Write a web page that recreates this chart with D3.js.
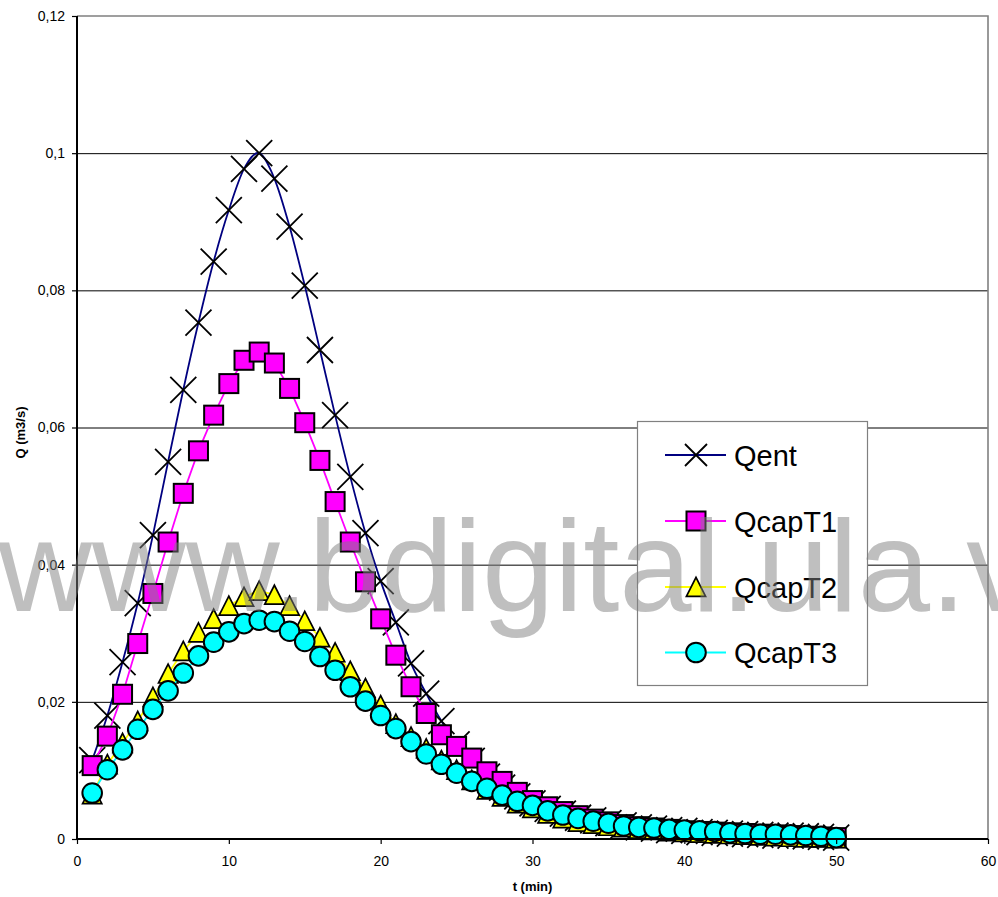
<!DOCTYPE html>
<html>
<head>
<meta charset="utf-8">
<script src="https://cdn.jsdelivr.net/npm/d3@7"></script>
<style>
  html, body { margin: 0; padding: 0; background: #fff; }
  svg { display: block; font-family: Arial, "Liberation Sans", sans-serif; }
</style>
</head>
<body>
<svg id="chart" width="998" height="897"></svg>
<script>
// Time (min)
const times = d3.range(1, 51);

// Flow series (m3/s)
const qent = [
  0.0115, 0.0180, 0.0258, 0.0344, 0.0443, 0.0550, 0.0655, 0.0753, 0.0842, 0.0917,
  0.0977, 0.1000, 0.0963, 0.0893, 0.0807, 0.0713, 0.0618, 0.0528, 0.0446, 0.0376,
  0.0316, 0.0256, 0.0212, 0.0172, 0.0138, 0.0114, 0.0091, 0.0075, 0.0062, 0.0052,
  0.0044, 0.0037, 0.0031, 0.0027, 0.0023, 0.0020, 0.0017, 0.0015, 0.0013, 0.0012,
  0.0010, 0.0009, 0.0008, 0.0007, 0.0006, 0.0005, 0.0005, 0.0004, 0.0003, 0.0002
];
const qcapT1 = [
  0.0107, 0.0150, 0.0211, 0.0285, 0.0358, 0.0433, 0.0504, 0.0566, 0.0618, 0.0664,
  0.0698, 0.0710, 0.0694, 0.0657, 0.0607, 0.0552, 0.0492, 0.0433, 0.0375, 0.0321,
  0.0268, 0.0222, 0.0183, 0.0152, 0.0135, 0.0118, 0.0098, 0.0084, 0.0068, 0.0056,
  0.0047, 0.0040, 0.0034, 0.0029, 0.0025, 0.0021, 0.0018, 0.0016, 0.0014, 0.0012,
  0.0011, 0.0010, 0.0009, 0.0008, 0.0007, 0.0006, 0.0005, 0.0004, 0.0003, 0.0002
];
const qcapT2 = [
  0.0065, 0.0109, 0.0140, 0.0172, 0.0207, 0.0241, 0.0274, 0.0301, 0.0321, 0.0340,
  0.0353, 0.0362, 0.0356, 0.0340, 0.0318, 0.0294, 0.0272, 0.0245, 0.0220, 0.0195,
  0.0168, 0.0149, 0.0132, 0.0115, 0.0101, 0.0086, 0.0072, 0.0062, 0.0052, 0.0045,
  0.0037, 0.0030, 0.0025, 0.0022, 0.0019, 0.0017, 0.0015, 0.0013, 0.0011, 0.0010,
  0.0009, 0.0008, 0.0007, 0.0006, 0.0005, 0.0004, 0.0003, 0.0002, 0.0002, 0.0001
];
const qcapT3 = [
  0.0067, 0.0101, 0.0130, 0.0160, 0.0189, 0.0216, 0.0242, 0.0267, 0.0287, 0.0302,
  0.0314, 0.0319, 0.0317, 0.0303, 0.0288, 0.0266, 0.0246, 0.0222, 0.0201, 0.0180,
  0.0161, 0.0142, 0.0124, 0.0109, 0.0096, 0.0084, 0.0074, 0.0064, 0.0055, 0.0049,
  0.0041, 0.0035, 0.0030, 0.0026, 0.0023, 0.0019, 0.0017, 0.0016, 0.0014, 0.0013,
  0.0012, 0.0011, 0.0009, 0.0008, 0.0007, 0.0007, 0.0006, 0.0005, 0.0004, 0.0002
];

const seriesNames = ["Qent", "QcapT1", "QcapT2", "QcapT3"];
const xTicks = [0, 10, 20, 30, 40, 50, 60];
const yTicks = [0, 0.02, 0.04, 0.06, 0.08, 0.1, 0.12];
const xTitle = "t (min)";
const yTitle = "Q (m3/s)";
const watermark = "www.bdigital.ula.ve";

// Layout
const plot = { left: 77, right: 988, top: 16, bottom: 839 };
const svg = d3.select("#chart");

const x = d3.scaleLinear().domain([0, 60]).range([plot.left, plot.right]);
const y = d3.scaleLinear().domain([0, 0.12]).range([plot.bottom, plot.top]);

const commaFmt = d => String(+d.toFixed(4)).replace(".", ",");

// Horizontal gridlines
svg.append("g")
  .attr("transform", `translate(${plot.left},0)`)
  .call(d3.axisLeft(y).tickValues(yTicks.filter(v => v > 0 && v < 0.12))
    .tickSize(-(plot.right - plot.left)).tickFormat(""))
  .call(g => g.select(".domain").remove())
  .call(g => g.selectAll("line").attr("stroke", "#000").attr("stroke-width", 1));

// Plot area frame (top and right)
svg.append("path")
  .attr("d", `M${plot.left},${plot.top}H${plot.right}V${plot.bottom}`)
  .attr("fill", "none").attr("stroke", "#808080").attr("stroke-width", 1.6);

// Series styles
const styles = [
  { line: "#000080", fill: "none", shape: "x", curve: d3.curveCardinal.tension(0) },
  { line: "#ff00ff", fill: "#ff00ff", shape: "square", curve: d3.curveLinear },
  { line: "#ffff00", fill: "#ffff00", shape: "triangle", curve: d3.curveLinear },
  { line: "#00ffff", fill: "#00ffff", shape: "circle", curve: d3.curveLinear }
];
const seriesValues = [qent, qcapT1, qcapT2, qcapT3];

function drawMarker(sel, shape, fill) {
  if (shape === "x") {
    sel.append("path").attr("d", "M-13,-13L13,13M-13,13L13,-13")
      .attr("stroke", "#000").attr("stroke-width", 1.8).attr("fill", "none");
  } else if (shape === "square") {
    sel.append("rect").attr("x", -9.5).attr("y", -9.5).attr("width", 19).attr("height", 19)
      .attr("fill", fill).attr("stroke", "#000").attr("stroke-width", 2);
  } else if (shape === "triangle") {
    sel.append("path").attr("d", "M0,-9.6L9.6,9.3L-9.6,9.3Z")
      .attr("fill", fill).attr("stroke", "#000").attr("stroke-width", 1.7)
      .attr("stroke-linejoin", "miter");
  } else {
    sel.append("circle").attr("r", 9.8)
      .attr("fill", fill).attr("stroke", "#000").attr("stroke-width", 2);
  }
}

seriesValues.forEach((vals, i) => {
  const st = styles[i];
  const pts = times.map((t, k) => [t, vals[k]]);
  const g = svg.append("g").attr("class", "series-" + seriesNames[i]);
  g.append("path")
    .datum(pts)
    .attr("fill", "none")
    .attr("stroke", st.line)
    .attr("stroke-width", 1.8)
    .attr("d", d3.line().x(d => x(d[0])).y(d => y(d[1])).curve(st.curve));
  g.selectAll("g.mk")
    .data(pts)
    .join("g")
    .attr("class", "mk")
    .attr("transform", d => `translate(${x(d[0])},${y(d[1])})`)
    .each(function () { drawMarker(d3.select(this), st.shape, st.fill); });
});

// Axes
const yAxis = svg.append("g")
  .attr("transform", `translate(${plot.left},0)`)
  .call(d3.axisLeft(y).tickValues(yTicks).tickSize(5).tickPadding(7).tickFormat(commaFmt));
const xAxis = svg.append("g")
  .attr("transform", `translate(0,${plot.bottom})`)
  .call(d3.axisBottom(x).tickValues(xTicks).tickSize(5).tickPadding(12).tickFormat(d3.format("d")));
[yAxis, xAxis].forEach(a => {
  a.select(".domain").attr("stroke", "#000").attr("stroke-width", 2);
  a.selectAll(".tick line").attr("stroke", "#000").attr("stroke-width", 1.2);
  a.selectAll(".tick text").attr("fill", "#000")
    .style("font-family", "Arial, 'Liberation Sans', sans-serif").style("font-size", "14px");
});
// the horizontal axis line spans only the plot width
xAxis.select(".domain").attr("d", `M${plot.left},0H${plot.right}`);
yAxis.select(".domain").attr("d", `M0,${plot.top}V${plot.bottom}`);

// Axis titles
svg.append("text")
  .attr("x", (plot.left + plot.right) / 2).attr("y", 891)
  .attr("text-anchor", "middle")
  .style("font-size", "13px").style("font-weight", "bold")
  .text(xTitle);
svg.append("text")
  .attr("transform", `translate(25,${(plot.top + plot.bottom) / 2 + 5}) rotate(-90)`)
  .attr("text-anchor", "middle")
  .style("font-size", "13px").style("font-weight", "bold")
  .text(yTitle);

// Legend
const legend = svg.append("g").attr("class", "legend");
legend.append("rect")
  .attr("x", 637.5).attr("y", 421.5).attr("width", 230).attr("height", 264)
  .attr("fill", "#fff").attr("stroke", "#808080").attr("stroke-width", 1.2);
const legendRows = [455, 521, 587, 652.5];
seriesNames.forEach((name, i) => {
  const st = styles[i];
  const row = legend.append("g").attr("transform", `translate(0,${legendRows[i]})`);
  row.append("line").attr("x1", 665).attr("x2", 726).attr("y1", 0).attr("y2", 0)
    .attr("stroke", st.line).attr("stroke-width", 2);
  const mk = row.append("g").attr("transform", "translate(696,0)");
  drawMarker(mk, st.shape, st.fill);
  if (st.shape === "x") mk.select("path").attr("d", "M-11,-11L11,11M-11,11L11,-11");
  row.append("text").attr("x", 734).attr("y", 10.5)
    .style("font-size", "29px").attr("fill", "#000")
    .text(name);
});

// Repository watermark over the whole figure
svg.append("text")
  .attr("x", -2).attr("y", 611)
  .style("font-size", "130px")
  .attr("fill", "#808080").attr("fill-opacity", 0.5)
  .text(watermark);
</script>
</body>
</html>
